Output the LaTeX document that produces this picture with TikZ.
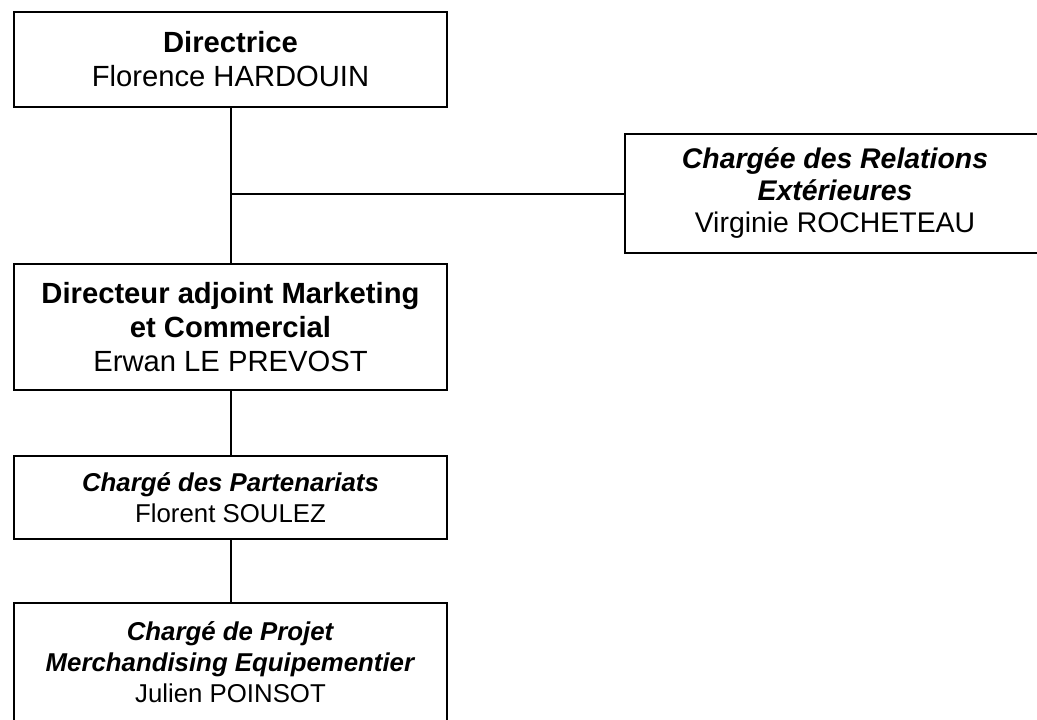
\documentclass[tikz,border=0pt]{standalone}
\usepackage{fontspec}
\setmainfont{Liberation Sans}
\usetikzlibrary{positioning}

\tikzset{
  poste/.style={draw, line width=1pt, align=center, inner sep=0pt},
  grand/.style={font=\fontsize{14.6}{17}\selectfont},
  moyen/.style={font=\fontsize{14.2}{16}\selectfont},
  petit/.style={font=\fontsize{12.9}{15.6}\selectfont},
  lien/.style={line width=1pt}
}

\begin{document}
\begin{tikzpicture}[x=0.5pt, y=-0.5pt]
    \useasboundingbox (0,0) rectangle (1037,719);
    \clip (0,0) rectangle (1037,719);
    \node[poste, grand, minimum width=216.5pt, minimum height=47.5pt] (dir) at (230.5,59.5)
        {\textbf{Directrice}\\Florence HARDOUIN};
    \node[poste, moyen, minimum width=210pt, minimum height=59.5pt] (rel) at (835,193.5)
        {\textbf{\textit{Chargée des Relations}}\\\textbf{\textit{Extérieures}}\\Virginie ROCHETEAU};
    \node[poste, grand, minimum width=216.5pt, minimum height=63pt] (adj) at (230.5,327)
        {\textbf{Directeur adjoint Marketing}\\\textbf{et Commercial}\\Erwan LE PREVOST};
    \node[poste, petit, minimum width=216.5pt, minimum height=41.5pt] (part) at (230.5,497.5)
        {\textbf{\textit{Chargé des Partenariats}}\\Florent SOULEZ};
    \node[poste, petit, minimum width=216.5pt, minimum height=59pt] (proj) at (230.5,662)
        {\textbf{\textit{Chargé de Projet}}\\\textbf{\textit{Merchandising Equipementier}}\\Julien POINSOT};
    % liaisons
    \draw[lien] (dir) -- (adj);
    \draw[lien] (rel.west) -- (rel.west -| dir.south);
    \draw[lien] (adj) -- (part);
    \draw[lien] (part) -- (proj);
\end{tikzpicture}
\end{document}
